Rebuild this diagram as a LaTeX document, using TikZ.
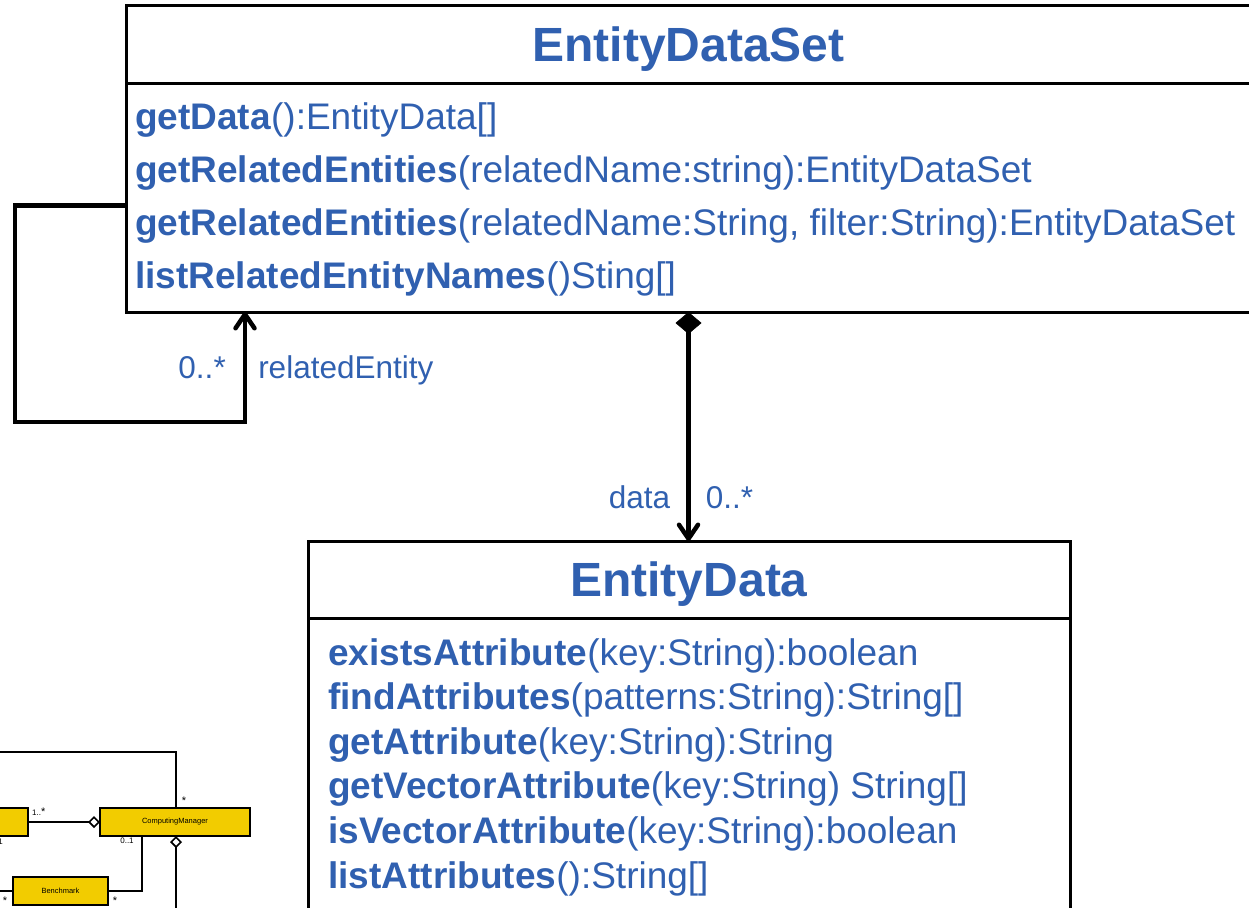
\documentclass[tikz,border=0pt]{standalone}
\usepackage{fontspec}
\setmainfont{Liberation Sans}
\usetikzlibrary{arrows.meta}
\definecolor{umlblue}{RGB}{48,96,176}
\definecolor{umlyellow}{RGB}{242,204,0}
\tikzset{
  classhead/.style={draw, line width=3pt, inner sep=0pt, outer sep=0pt, text=umlblue,
    font=\fontsize{48}{56}\selectfont\bfseries, text height=34pt, text depth=0pt},
  classbody/.style={draw, line width=3pt, inner sep=0pt, outer sep=0pt},
  optext/.style={text=umlblue, font=\fontsize{37}{44}\selectfont, inner sep=0pt, anchor=base west},
  rolelabel/.style={text=umlblue, font=\fontsize{31.5}{36}\selectfont, inner sep=2pt,
    text height=22pt, text depth=0pt},
  assoc/.style={line width=4.5pt, -{Straight Barb[length=14pt,width=19pt,round]}},
  comp/.style={line width=4.5pt,
    {Diamond[length=22pt,width=26pt,line width=0.5pt]}-{Straight Barb[length=14pt,width=19pt,round]}},
  thumbbox/.style={draw, fill=umlyellow, line width=1.6pt, inner sep=0pt, outer sep=0pt,
    font=\fontsize{7.5}{9}\selectfont},
  thumbline/.style={line width=1.6pt},
  thumblabel/.style={font=\fontsize{8}{9}\selectfont, inner sep=0pt},
  thumbstar/.style={font=\fontsize{11}{12}\selectfont, inner sep=0pt},
}
\begin{document}
\begin{tikzpicture}[x=1pt,y=-1pt]
\useasboundingbox (0,0) rectangle (1249,907);
\clip (0,0) rectangle (1249,907);

% EntityDataSet class
\node[classhead, anchor=north west, minimum width=1125pt, minimum height=77pt] (setHead) at (126,6) {EntityDataSet};
\node[classbody, anchor=north west, minimum width=1125pt, minimum height=229pt] (setBody) at (setHead.south west) {};
\foreach \op [count=\i from 0] in {{\textbf{getData}():EntityData[]},
    {\textbf{getRelatedEntities}(relatedName:string):EntityDataSet},
    {\textbf{getRelatedEntities}(relatedName:String, filter:String):EntityDataSet},
    {\textbf{listRelatedEntityNames}()Sting[]}}
  \node[optext] (setOp\i) at (135,{129+53.3*\i}) {\op};

% EntityData class
\node[classhead, anchor=north west, minimum width=762pt, minimum height=77pt] (entHead) at (308,541) {EntityData};
\node[classbody, anchor=north west, minimum width=762pt, minimum height=400pt] (entBody) at (entHead.south west) {};
\foreach \op [count=\i from 0] in {{\textbf{existsAttribute}(key:String):boolean},
    {\textbf{findAttributes}(patterns:String):String[]},
    {\textbf{getAttribute}(key:String):String},
    {\textbf{getVectorAttribute}(key:String) String[]},
    {\textbf{isVectorAttribute}(key:String):boolean},
    {\textbf{listAttributes}():String[]}}
  \node[optext] (entOp\i) at (328,{665+44.6*\i}) {\op};

% self association
\coordinate (loopTurn) at (15,422);
\coordinate (loopEnd) at (245,422);
\draw[assoc] ([yshift=-8pt]setBody.west) -| (loopTurn) -- (loopEnd) -- (loopEnd |- setBody.south)
  node[rolelabel, midway, left=15pt] (relMult) {0..*}
  node[rolelabel, midway, right=9pt] (relName) {relatedEntity};

% composition
\draw[comp] (setBody.south) -- (setBody.south |- entHead.north)
  node[rolelabel, pos=.81, left=14pt] (dataName) {data}
  node[rolelabel, pos=.81, right=13pt] (dataMult) {0..*};

% thumbnail of the other diagram
\node[thumbbox, anchor=north east, minimum width=90pt, minimum height=28pt] (cutBox) at (28,808) {};
\node[thumbbox, anchor=north west, minimum width=150pt, minimum height=28pt] (cmBox) at (100,808) {ComputingManager};
\node[thumbbox, anchor=north west, minimum width=95pt, minimum height=28pt] (benchBox) at (13,877) {Benchmark};
\coordinate (topLeft) at (-5,752);
\coordinate (benchLeft) at (-5,891);
\coordinate (cmDown) at (176,915);
\draw[thumbline] (topLeft) -| ([xshift=76pt]cmBox.north west);
\draw[thumbline, -{Diamond[open,length=12pt,width=12pt]}] (cutBox.east) -- (cmBox.west);
\draw[thumbline] ([xshift=42pt]cmBox.south west) |- (benchBox.east);
\draw[thumbline] (benchLeft) -- (benchBox.west);
\draw[thumbline, {Diamond[open,length=12pt,width=12pt]}-] ([xshift=76pt]cmBox.south west) -- (cmDown);
\node[thumblabel, anchor=base west] (cutMult) at (32,815) {1..{\fontsize{11}{12}\selectfont*}};
\node[thumblabel] (cutLow) at (0.5,842) {1};
\node[thumbstar] (cmTopMult) at (184,801) {*};
\node[thumblabel] (cmBenchMult) at (127,841) {0..1};
\node[thumbstar] (benchRight) at (115,901) {*};
\node[thumbstar] (benchLeftMult) at (5,901) {*};
\end{tikzpicture}
\end{document}
